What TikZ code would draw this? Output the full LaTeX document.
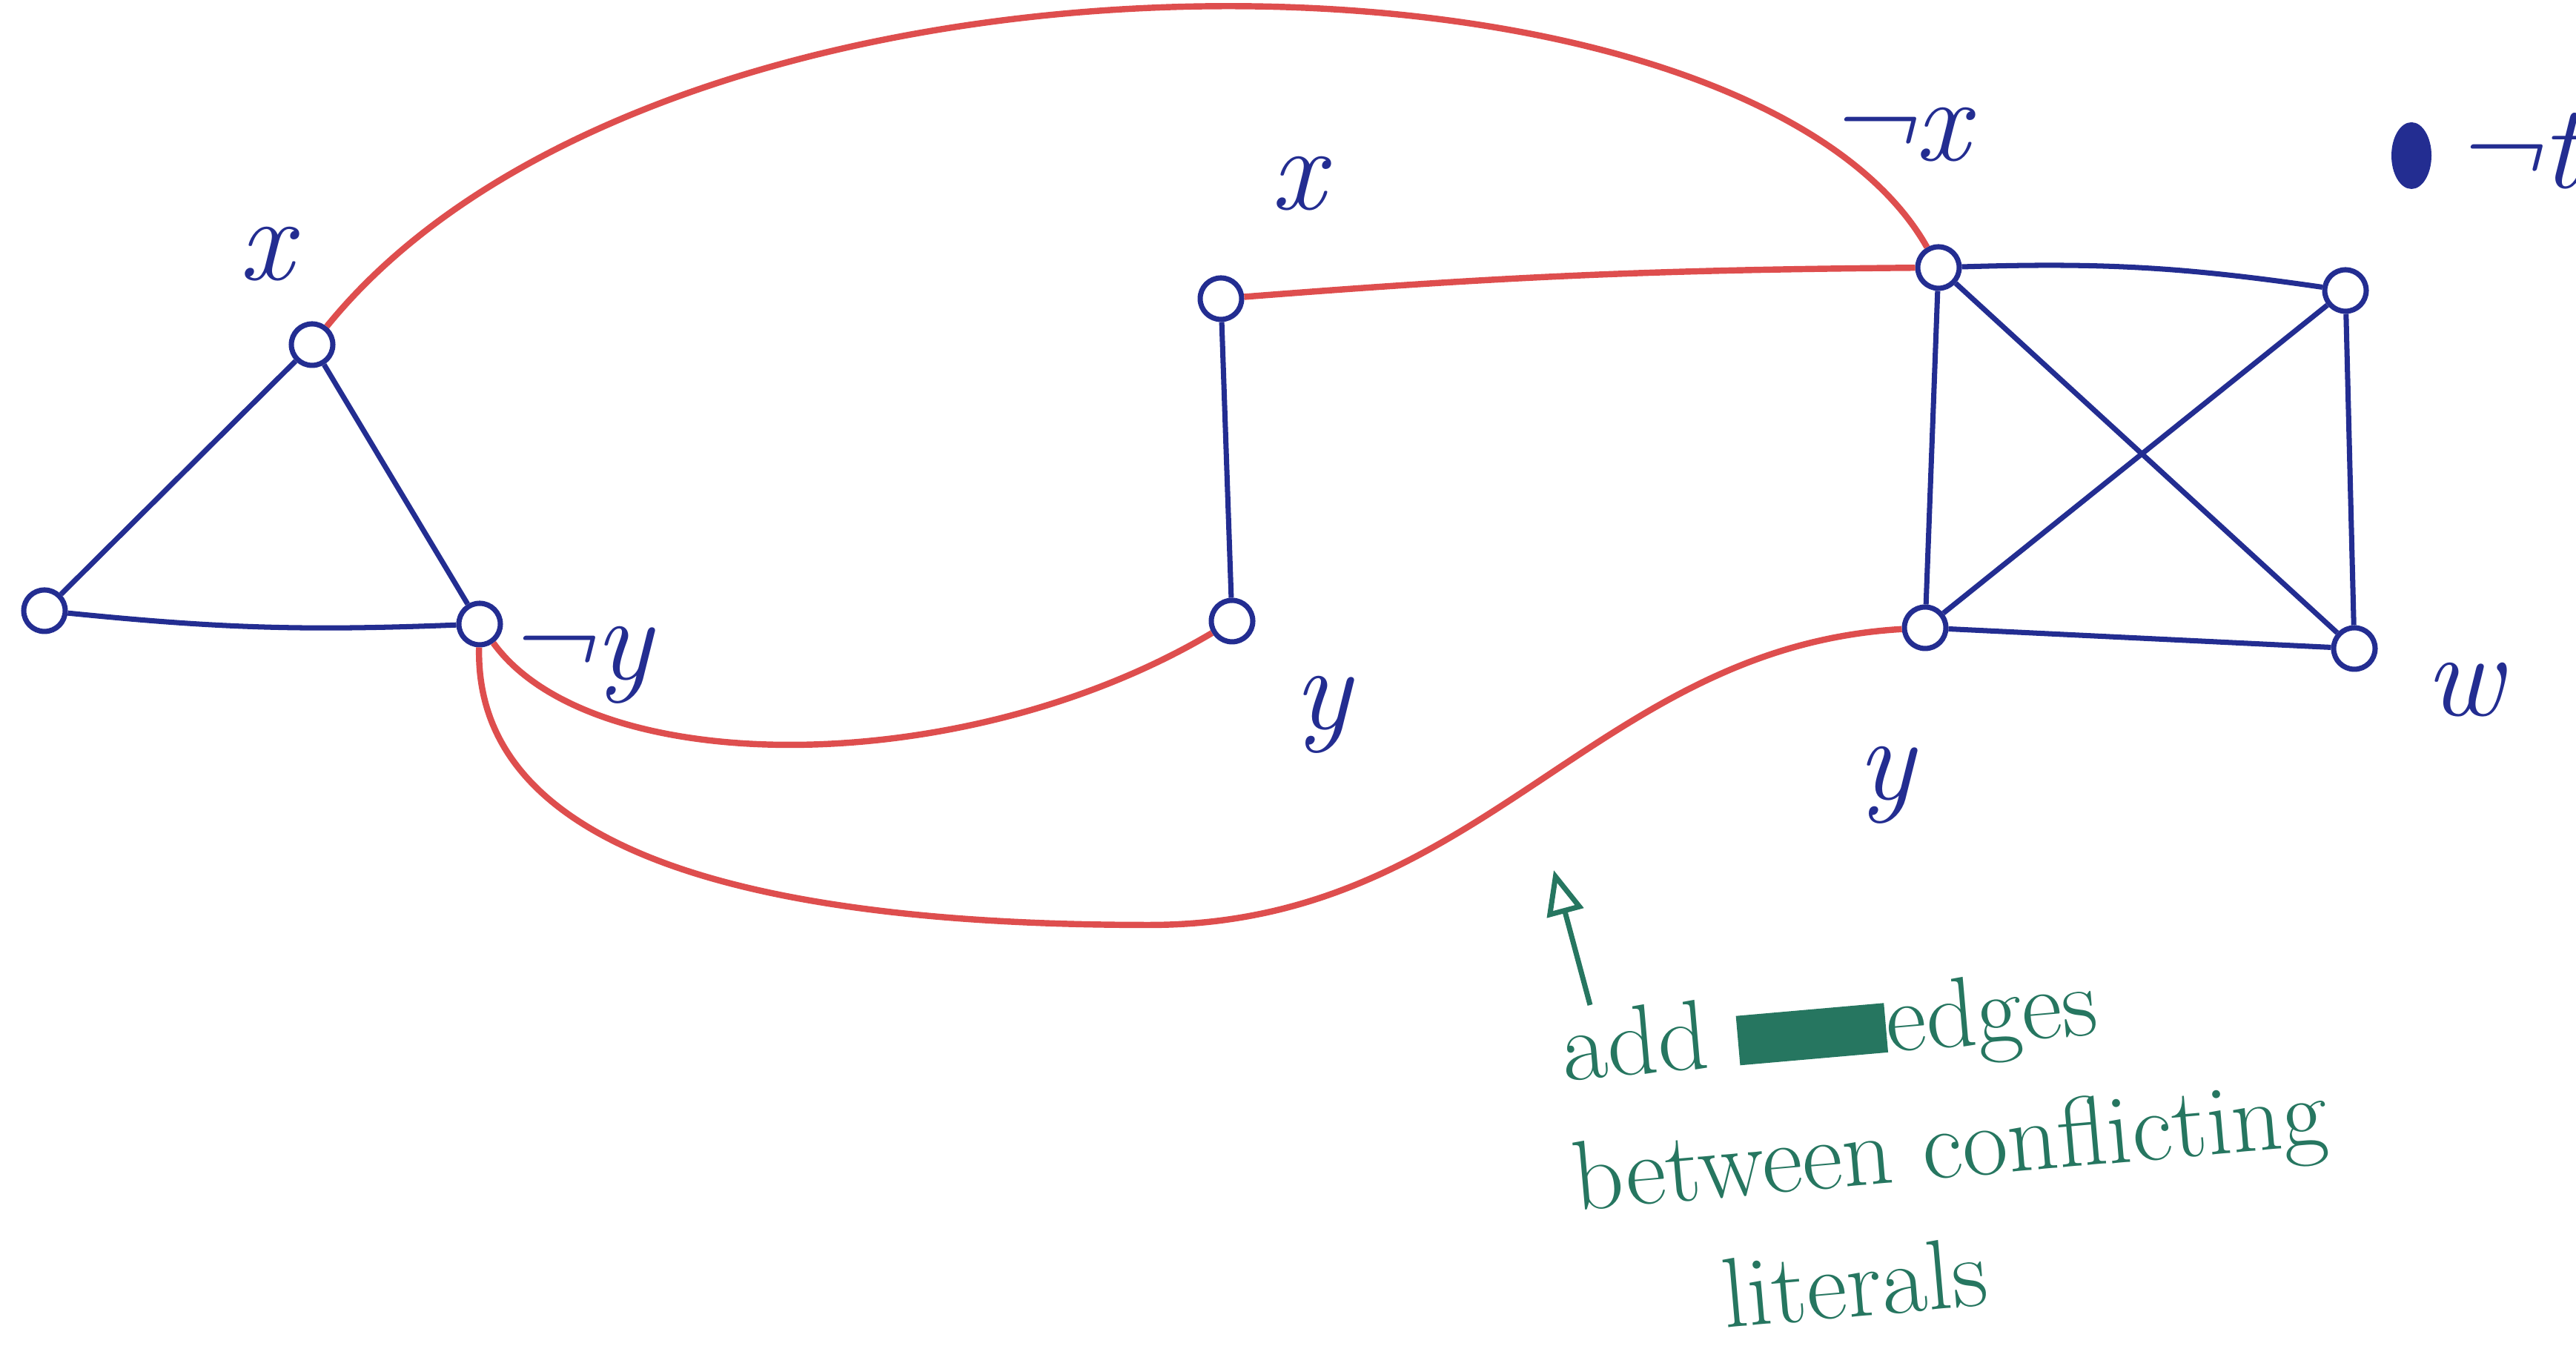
\documentclass[tikz,border=0pt]{standalone}
\usepackage{tikz}
\usetikzlibrary{arrows.meta}

\definecolor{penblue}{RGB}{35,45,145}
\definecolor{penred}{RGB}{222,78,78}
\definecolor{pengreen}{RGB}{38,118,96}

\begin{document}
\begin{tikzpicture}[
        lit/.style={draw=penblue, circle, line width=2pt, minimum size=5.6mm, inner sep=0pt},
        blu/.style={draw=penblue, line width=2pt},
        conf/.style={draw=penred, line width=2.4pt},
        lab/.style={text=penblue, font=\fontsize{46}{46}\selectfont\itshape},
        note/.style={text=pengreen, align=left, font=\fontsize{38}{50}\selectfont}
    ]
        \useasboundingbox (0,0) rectangle (34.75,18.43);
        % literals of the three clauses
        \node (o) [lit] at (0.60,10.19) {};
        \node (x1) [lit] at (4.21,13.78) {};
        \node (ny1) [lit] at (6.47,10.01) {};
        \node (x2) [lit] at (16.47,14.40) {};
        \node (y2) [lit] at (16.62,10.05) {};
        \node (nx3) [lit] at (26.15,14.82) {};
        \node (nt3) [lit] at (31.64,14.51) {};
        \node (y3) [lit] at (25.97,9.96) {};
        \node (w3) [lit] at (31.76,9.68) {};
        % labels
        \node (x1l) [lab] at (3.59,15.00) {x};
        \node (ny1l) [lab] at (7.80,9.46) {¬y};
        \node (x2l) [lab] at (17.51,15.95) {x};
        \node (y2l) [lab] at (17.84,8.79) {y};
        \node (nx3l) [lab] at (25.59,16.61) {¬x};
        \fill[penblue] (32.53,16.33) ellipse (0.27 and 0.45);
        \node (nt3l) [lab, anchor=west] at (32.95,16.39) {¬t};
        \node (y3l) [lab] at (25.44,7.84) {y};
        \node (w3l) [lab] at (33.24,9.12) {w};
        % clause edges
        \draw[blu] (x1) -- (o);
        \draw[blu] (x1) -- (ny1);
        \draw[blu, bend right=4] (o) to (ny1);
        \draw[blu] (x2) -- (y2);
        \draw[blu, bend left=5] (nx3) to (nt3);
        \draw[blu] (nx3) -- (y3);
        \draw[blu] (nx3) -- (w3);
        \draw[blu] (nt3) -- (y3);
        \draw[blu] (nt3) -- (w3);
        \draw[blu] (y3) -- (w3);
        % conflict edges
        \draw[conf] (x1) .. controls (9,19.7) and (23.5,19.5) .. (nx3);
        \draw[conf, bend left=2] (x2) to (nx3);
        \draw[conf] (ny1) .. controls (8,7.9) and (13,7.9) .. (y2);
        \draw[conf] (ny1) .. controls (6.4,7) and (10,5.95) .. (15.5,5.95)
            .. controls (20,5.95) and (21.5,9.7) .. (y3);
        % note
        \coordinate (tail) at (21.45,4.87);
        \coordinate (tip) at (20.96,6.69);
        \draw[-{Triangle[open, length=6mm, width=5mm]}, draw=pengreen, line width=2pt] (tail) -- (tip);
        \node (n1) [note, rotate=5] at (26.3,3.0)
            {add \rule{1.5em}{0.5em}edges\\between conflicting\\\hspace*{1.4em}literals};
\end{tikzpicture}
\end{document}
